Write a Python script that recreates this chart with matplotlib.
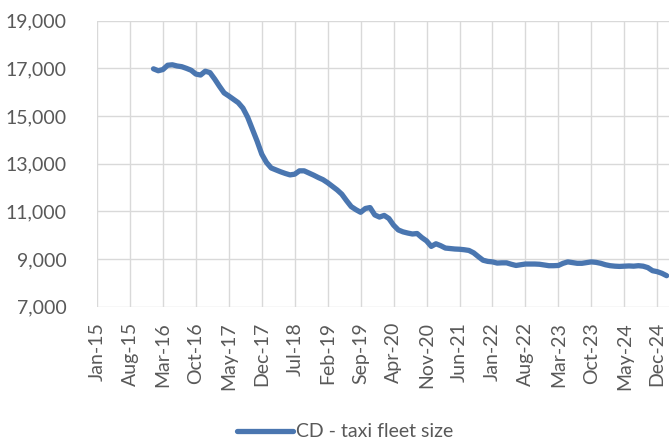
import matplotlib
matplotlib.use("Agg")
import matplotlib.pyplot as plt
import pandas as pd

# Monthly taxi fleet size, first observation Jan-2016
series_name = "CD - taxi fleet size"
axis_start = "2015-01"
series_start = "2016-01"
fleet_size = [
    16980, 16900, 16950, 17130, 17150, 17100, 17070, 17000, 16920, 16760,
    16720, 16880, 16820, 16550, 16250, 15970, 15840, 15700, 15560, 15330,
    14950, 14450, 13950, 13400, 13050, 12820, 12740, 12660, 12590, 12530,
    12560, 12700, 12700, 12610, 12520, 12420, 12330, 12200, 12050, 11900,
    11720, 11450, 11200, 11070, 10960, 11120, 11160, 10850, 10760, 10830,
    10700, 10420, 10220, 10140, 10090, 10050, 10070, 9900, 9760, 9530,
    9640, 9560, 9460, 9440, 9420, 9410, 9390, 9360, 9260, 9100,
    8950, 8900, 8880, 8830, 8840, 8840, 8780, 8730, 8760, 8790,
    8790, 8790, 8780, 8750, 8720, 8720, 8730, 8820, 8880, 8850,
    8820, 8820, 8850, 8880, 8860, 8820, 8760, 8720, 8700, 8690,
    8700, 8710, 8700, 8720, 8700, 8640, 8510, 8470, 8400, 8300,
]
y_ticks = [7000, 9000, 11000, 13000, 15000, 17000, 19000]
tick_step_months = 7
n_ticks = 18

plt.rcParams["font.family"] = ["Lato", "DejaVu Sans"]
text_color = "#595959"
grid_color = "#d9d9d9"
line_color = "#4a76b0"

base = pd.Period(axis_start, freq="M")
first = pd.Period(series_start, freq="M")
offset = (first - base).n
x = [offset + i for i in range(len(fleet_size))]

tick_pos = [i * tick_step_months for i in range(n_ticks)]
tick_labels = [(base + p).strftime("%b-%y") for p in tick_pos]

fig = plt.figure(figsize=(6.69, 4.43), dpi=100)
ax = fig.add_axes([0.145, 0.3077, 0.855, 0.6456])

ax.plot(x, fleet_size, color=line_color, linewidth=3.8,
        solid_capstyle="round", solid_joinstyle="round",
        label=series_name, zorder=3)

ax.set_xlim(0, 121.5)
ax.set_ylim(y_ticks[0], y_ticks[-1])
ax.set_yticks(y_ticks)
ax.set_yticklabels([f"{v:,}" for v in y_ticks])
ax.set_xticks(tick_pos)
ax.set_xticklabels(tick_labels, rotation=90, va="top", ha="center")

ax.grid(True, color=grid_color, linewidth=1.0)
ax.set_axisbelow(True)
for s in ax.spines.values():
    s.set_visible(False)
ax.tick_params(axis="both", length=0, labelsize=14, colors=text_color)
ax.tick_params(axis="y", pad=22)
ax.tick_params(axis="x", pad=11)

fig.legend(loc="center", bbox_to_anchor=(0.516, 0.025), frameon=False,
           fontsize=14, handlelength=2.9, handletextpad=0.15,
           labelcolor=text_color)

fig.savefig("out.png", dpi=100)
